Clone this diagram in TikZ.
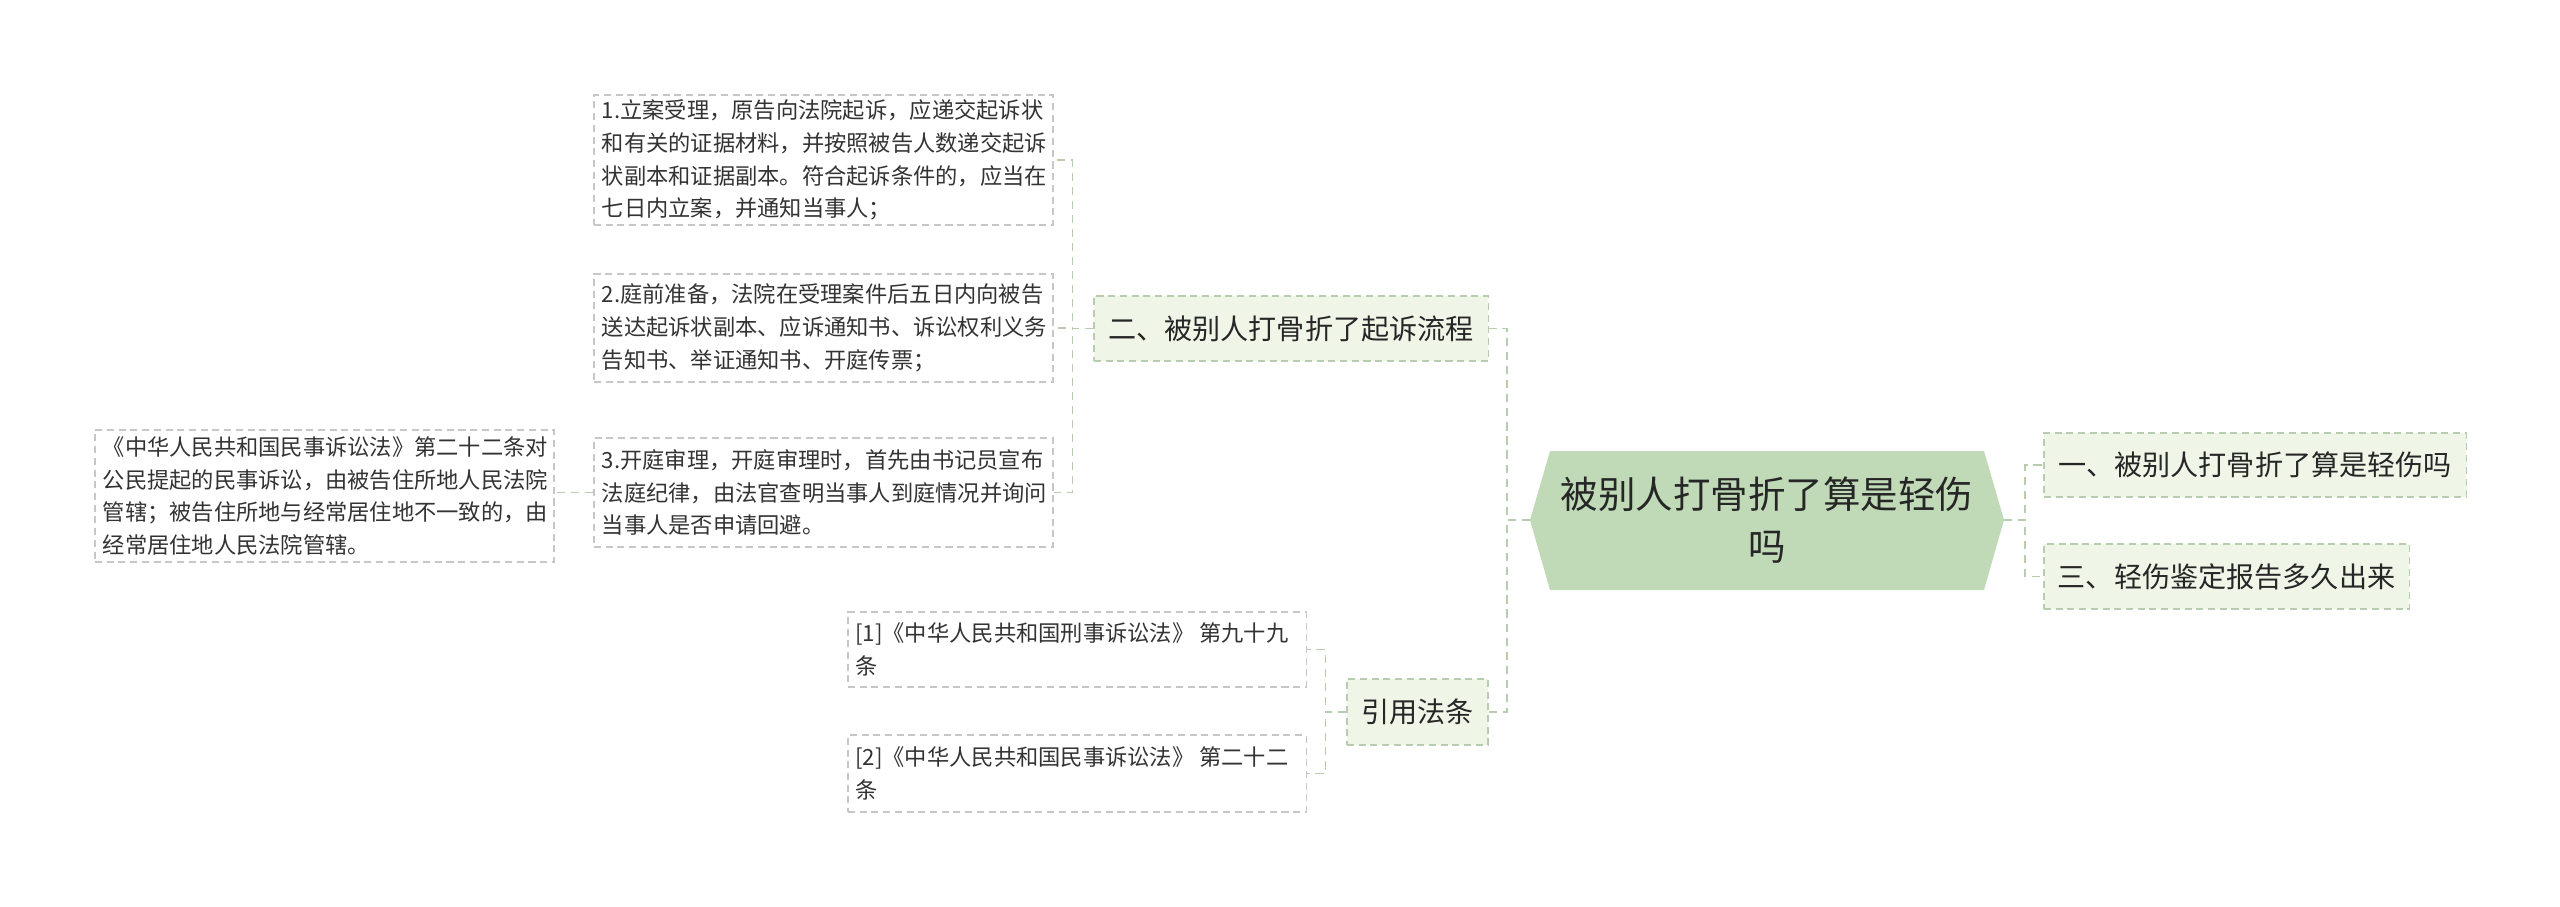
\documentclass[tikz,border=0pt]{standalone}
\usepackage{fontspec}
\setmainfont{Noto Sans CJK SC}
\newcommand{\lt}[1]{\begin{minipage}{13.3cm}\raggedright #1\end{minipage}}
\begin{document}
\begin{tikzpicture}[x=0.03cm,y=-0.03cm,
  lone/.style={draw=black!22,dash pattern=on 6pt off 4pt,line width=0.9pt,fill=white,text=black!80,font=\fontsize{19}{28}\selectfont,inner sep=0pt},
  lvl/.style={draw={rgb,255:red,184;green,205;blue,176},dash pattern=on 6pt off 4pt,line width=0.9pt,fill={rgb,255:red,239;green,246;blue,232},text=black!85,font=\fontsize{24}{30}\selectfont,inner sep=0pt},
  conn/.style={draw={rgb,255:red,184;green,205;blue,176},dash pattern=on 7pt off 5pt,line width=1.6pt}]
\useasboundingbox (0,0) rectangle (2560,907);
% root
\fill[fill={rgb,255:red,192;green,218;blue,184}] (1530,520)--(1550,451)--(1984,451)--(2004,520)--(1984,590)--(1550,590)--cycle;
\node[font=\fontsize{32}{44}\selectfont,align=center,text=black!85] (root) at (1767,520) {被别人打骨折了算是轻伤\\吗};
\coordinate (rootW) at (1530,520);
\coordinate (rootE) at (2004,520);
% level 1
\node[lvl,minimum width=12.66cm,minimum height=1.92cm] (r1) at (2255,465) {一、被别人打骨折了算是轻伤吗};
\node[lvl,minimum width=10.95cm,minimum height=1.95cm] (r2) at (2226.5,576.5) {三、轻伤鉴定报告多久出来};
\node[lvl,minimum width=11.82cm,minimum height=1.95cm] (l1) at (1291,328.5) {二、被别人打骨折了起诉流程};
\node[lvl,minimum width=4.23cm,minimum height=1.98cm] (l2) at (1417.5,712) {引用法条};
% leaves
\node[lone,minimum width=13.77cm,minimum height=3.9cm] (a1) at (823.5,160) {\lt{1.立案受理，原告向法院起诉，应递交起诉状\\和有关的证据材料，并按照被告人数递交起诉\\状副本和证据副本。符合起诉条件的，应当在\\七日内立案，并通知当事人；}};
\node[lone,minimum width=13.77cm,minimum height=3.24cm] (a2) at (823.5,328) {\lt{2.庭前准备，法院在受理案件后五日内向被告\\送达起诉状副本、应诉通知书、诉讼权利义务\\告知书、举证通知书、开庭传票；}};
\node[lone,minimum width=13.77cm,minimum height=3.27cm] (a3) at (823.5,492.5) {\lt{3.开庭审理，开庭审理时，首先由书记员宣布\\法庭纪律，由法官查明当事人到庭情况并询问\\当事人是否申请回避。}};
\node[lone,minimum width=13.77cm,minimum height=3.96cm] (b1) at (324.5,496) {\lt{《中华人民共和国民事诉讼法》第二十二条对\\公民提起的民事诉讼，由被告住所地人民法院\\管辖；被告住所地与经常居住地不一致的，由\\经常居住地人民法院管辖。}};
\node[lone,minimum width=13.74cm,minimum height=2.25cm] (c1) at (1077,649.5) {\lt{[1]《中华人民共和国刑事诉讼法》\ 第九十九\\条}};
\node[lone,minimum width=13.74cm,minimum height=2.31cm] (c2) at (1077,773.5) {\lt{[2]《中华人民共和国民事诉讼法》\ 第二十二\\条}};
% connectors
\draw[conn] (rootW) -- ++(-23,0) |- (l1.east);
\draw[conn] (rootW) -- ++(-23,0) |- (l2.east);
\draw[conn] (rootE) -- ++(21,0) |- (r1.west);
\draw[conn] (rootE) -- ++(21,0) |- (r2.west);
\draw[conn] (l1.west) -- ++(-21,0) |- (a1.east);
\draw[conn] (l1.west) -- ++(-21,0) |- (a2.east);
\draw[conn] (l1.west) -- ++(-21,0) |- (a3.east);
\draw[conn] (a3.west) -- (b1.east |- a3.west);
\draw[conn] (l2.west) -- ++(-21,0) |- (c1.east);
\draw[conn] (l2.west) -- ++(-21,0) |- (c2.east);
\end{tikzpicture}
\end{document}
